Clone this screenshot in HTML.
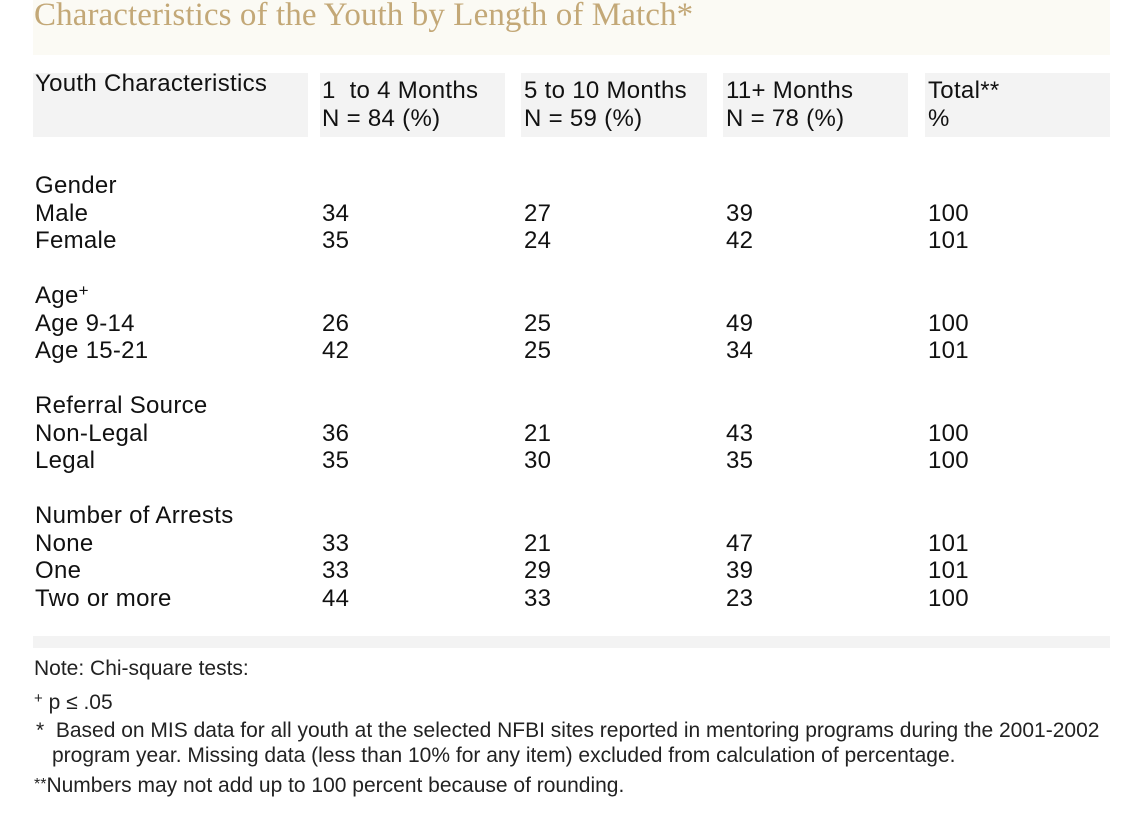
<!DOCTYPE html>
<html><head><meta charset="utf-8"><style>
body{margin:0;width:1140px;height:833px;background:#fff;position:relative;overflow:hidden;font-family:"Liberation Sans",Arial,sans-serif;color:#111}
.a{position:absolute;white-space:nowrap;font-size:24px;line-height:24px;letter-spacing:0.3px}
.b{position:absolute;background:#f3f3f3}
.n{position:absolute;white-space:nowrap;font-size:21px;line-height:21px;color:#222}
</style></head><body>
<div class="b" style="left:33px;top:0;width:1077px;height:55px;background:#fbfaf4"></div>
<div class="a" style="left:34px;top:-1px;font-family:'Liberation Serif',serif;font-size:33px;line-height:33px;letter-spacing:0.1px;color:#c3a877">Characteristics of the Youth by Length of Match*</div>
<div class="b" style="left:33px;top:73px;width:275px;height:64px"></div>
<div class="b" style="left:320px;top:73px;width:185px;height:64px"></div>
<div class="b" style="left:521px;top:73px;width:186px;height:64px"></div>
<div class="b" style="left:723px;top:73px;width:185px;height:64px"></div>
<div class="b" style="left:925px;top:73px;width:185px;height:64px"></div>
<div class="a" style="left:35px;top:72px">Youth Characteristics</div>
<div class="a" style="left:322px;top:79px">1&nbsp; to 4 Months</div>
<div class="a" style="left:322px;top:107px">N = 84 (%)</div>
<div class="a" style="left:524px;top:79px">5 to 10 Months</div>
<div class="a" style="left:524px;top:107px">N = 59 (%)</div>
<div class="a" style="left:726px;top:79px">11+ Months</div>
<div class="a" style="left:726px;top:107px">N = 78 (%)</div>
<div class="a" style="left:928px;top:79px">Total**</div>
<div class="a" style="left:928px;top:107px">%</div>

<div class="a" style="left:35px;top:174px">Gender</div>
<div class="a" style="left:35px;top:202px">Male</div><div class="a" style="left:322px;top:202px">34</div><div class="a" style="left:524px;top:202px">27</div><div class="a" style="left:726px;top:202px">39</div><div class="a" style="left:928px;top:202px">100</div>
<div class="a" style="left:35px;top:229px">Female</div><div class="a" style="left:322px;top:229px">35</div><div class="a" style="left:524px;top:229px">24</div><div class="a" style="left:726px;top:229px">42</div><div class="a" style="left:928px;top:229px">101</div>

<div class="a" style="left:35px;top:284px">Age<sup style="font-size:17px;vertical-align:7px;line-height:0">+</sup></div>
<div class="a" style="left:35px;top:312px">Age 9-14</div><div class="a" style="left:322px;top:312px">26</div><div class="a" style="left:524px;top:312px">25</div><div class="a" style="left:726px;top:312px">49</div><div class="a" style="left:928px;top:312px">100</div>
<div class="a" style="left:35px;top:339px">Age 15-21</div><div class="a" style="left:322px;top:339px">42</div><div class="a" style="left:524px;top:339px">25</div><div class="a" style="left:726px;top:339px">34</div><div class="a" style="left:928px;top:339px">101</div>

<div class="a" style="left:35px;top:394px">Referral Source</div>
<div class="a" style="left:35px;top:422px">Non-Legal</div><div class="a" style="left:322px;top:422px">36</div><div class="a" style="left:524px;top:422px">21</div><div class="a" style="left:726px;top:422px">43</div><div class="a" style="left:928px;top:422px">100</div>
<div class="a" style="left:35px;top:449px">Legal</div><div class="a" style="left:322px;top:449px">35</div><div class="a" style="left:524px;top:449px">30</div><div class="a" style="left:726px;top:449px">35</div><div class="a" style="left:928px;top:449px">100</div>

<div class="a" style="left:35px;top:504px">Number of Arrests</div>
<div class="a" style="left:35px;top:532px">None</div><div class="a" style="left:322px;top:532px">33</div><div class="a" style="left:524px;top:532px">21</div><div class="a" style="left:726px;top:532px">47</div><div class="a" style="left:928px;top:532px">101</div>
<div class="a" style="left:35px;top:559px">One</div><div class="a" style="left:322px;top:559px">33</div><div class="a" style="left:524px;top:559px">29</div><div class="a" style="left:726px;top:559px">39</div><div class="a" style="left:928px;top:559px">101</div>
<div class="a" style="left:35px;top:587px">Two or more</div><div class="a" style="left:322px;top:587px">44</div><div class="a" style="left:524px;top:587px">33</div><div class="a" style="left:726px;top:587px">23</div><div class="a" style="left:928px;top:587px">100</div>

<div class="b" style="left:33px;top:636px;width:1077px;height:12px"></div>
<div class="n" style="left:34px;top:658px">Note: Chi-square tests:</div>
<div class="n" style="left:34px;top:688px"><span style="font-size:15px;vertical-align:6px">+</span> p ≤ .05</div>
<div class="n" style="left:36px;top:720px">*&nbsp; Based on MIS data for all youth at the selected NFBI sites reported in mentoring programs during the 2001-2002</div>
<div class="n" style="left:52px;top:745px">program year. Missing data (less than 10% for any item) excluded from calculation of percentage.</div>
<div class="n" style="left:34px;top:774px"><span style="font-size:16px;vertical-align:3px">**</span>Numbers may not add up to 100 percent because of rounding.</div>
</body></html>
